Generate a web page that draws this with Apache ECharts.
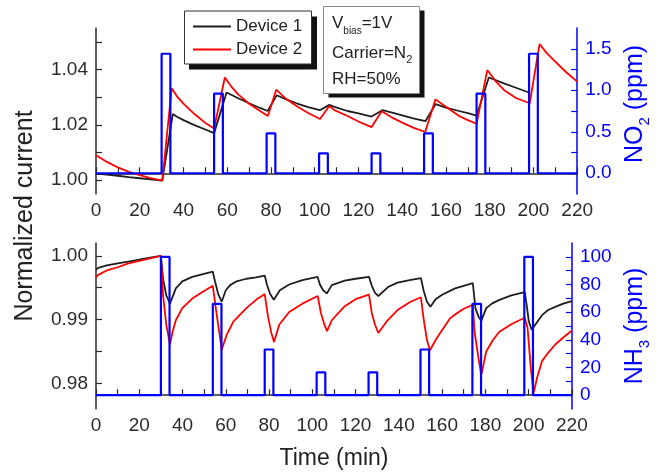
<!DOCTYPE html>
<html>
<head>
<meta charset="utf-8">
<script src="https://cdn.jsdelivr.net/npm/echarts@6/dist/echarts.min.js"></script>
<style>
html,body{margin:0;padding:0;background:#fff;}
#chart{width:660px;height:476px;}
</style>
</head>
<body>
<div id="chart"></div>
<script>
// ---------- data ----------
var pulseStarts = [30, 54, 78, 102, 126, 150, 174, 198];
var pulseWidth = 4;
var no2Levels = [1.44, 0.96, 0.48, 0.24, 0.24, 0.48, 0.96, 1.44];
var nh3Levels = [100, 66, 33, 16.5, 16.5, 33, 66, 100];
var timeEnd = 220;

var no2Device1 = [[0,1.0024],[5,1.0020],[10,1.0016],[15,1.0011],[20,1.0007],[25,1.0003],[30.3,0.9998],
 [35.1,1.0239],[37,1.0229],[40,1.0217],[45,1.0199],[50,1.0183],[54,1.0170],
 [59.7,1.0317],[65,1.0296],[70,1.0278],[75,1.0261],[78.5,1.0250],
 [82.6,1.0307],[87,1.0292],[92,1.0277],[97,1.0264],[102.3,1.0253],
 [106.7,1.0272],[109,1.0265],[115,1.0250],[120,1.0241],[126,1.0230],
 [130.9,1.0253],[135,1.0245],[140,1.0234],[145,1.0223],[150.6,1.0213],
 [155.3,1.0275],[160,1.0262],[166,1.0250],[170,1.0242],[174,1.0233],
 [179.6,1.0371],[186.5,1.0350],[192,1.0334],[198.2,1.0316]];

var no2Device2 = [[0,1.0090],[5,1.0066],[10,1.0046],[15,1.0030],[20,1.0018],[25,1.0007],[30.3,0.9998],
 [34.6,1.0332],[37,1.0303],[40,1.0277],[45,1.0239],[50,1.0207],[54,1.0187],
 [58.9,1.0371],[62,1.0337],[65,1.0310],[70,1.0276],[75,1.0250],[78.6,1.0232],
 [82.4,1.0327],[87,1.0293],[92,1.0266],[97,1.0243],[102.4,1.0221],
 [106.7,1.0268],[109,1.0253],[115,1.0232],[120,1.0212],[126,1.0192],
 [130.6,1.0249],[135,1.0228],[140,1.0208],[145,1.0190],[150.5,1.0174],
 [155.2,1.0292],[160,1.0265],[166,1.0232],[170,1.0217],[174,1.0204],
 [178.9,1.0398],[183,1.0355],[186.5,1.0326],[192,1.0297],[198.3,1.0278],
 [202.8,1.0492],[206,1.0460],[209.3,1.0434],[215,1.0390],[220,1.0356]];

var nh3Device1 = [[0,0.9978],[1,0.9981],[5,0.9985],[10,0.9988],[15,0.9991],[20,0.9994],[25,0.9997],[30,1.0000],
 [31,0.9964],[32.5,0.9938],[34.2,0.9925],
 [36.9,0.9949],[39.9,0.9960],[44.5,0.9967],[49,0.9971],[54,0.9975],
 [55,0.9960],[56.5,0.9940],[58.1,0.9928],
 [60,0.9946],[62,0.9954],[65,0.9960],[69.5,0.9964],[74,0.9966],[78,0.9969],
 [79,0.9955],[80.5,0.9940],[82.2,0.9931],
 [85,0.9946],[89.3,0.9955],[95.4,0.9962],[102.4,0.9967],
 [103.5,0.9955],[105,0.9946],[106.7,0.9941],
 [109,0.9954],[115,0.9961],[120,0.9964],[126.2,0.9967],
 [127.5,0.9953],[129,0.9942],[130.5,0.9937],
 [135,0.9951],[139.4,0.9958],[145,0.9962],[150.2,0.9965],
 [151.5,0.9945],[153,0.9928],[154.6,0.9920],
 [157,0.9932],[160,0.9939],[166,0.9949],[170,0.9953],[174.2,0.9957],
 [175.4,0.9918],[176.8,0.9905],[178.1,0.9898],
 [180.4,0.9918],[183,0.9925],[186.5,0.9931],[192,0.9938],[198.2,0.9943],
 [199,0.9925],[200.1,0.9897],[201.4,0.9884],[202.3,0.9881],
 [206.2,0.9907],[209,0.9915],[212.3,0.9920],[216,0.9925],[220,0.9929]];

var nh3Device2 = [[0,0.9966],[1,0.9970],[5,0.9977],[10,0.9982],[15,0.9988],[20,0.9992],[25,0.9996],[30,1.0000],
 [31,0.9938],[32.5,0.9892],[34.2,0.9861],
 [35.4,0.9881],[36.9,0.9899],[39.9,0.9918],[44.5,0.9933],[49,0.9943],[54,0.9953],
 [55.5,0.9915],[57,0.9880],[58.1,0.9853],
 [60.4,0.9876],[63.5,0.9897],[69.5,0.9918],[74,0.9931],[78,0.9940],
 [79.5,0.9905],[81,0.9880],[82.3,0.9865],
 [84.7,0.9892],[89.3,0.9912],[95.4,0.9925],[102.5,0.9937],
 [104,0.9910],[105.5,0.9893],[106.8,0.9882],
 [109,0.9899],[115,0.9921],[120,0.9932],[126.2,0.9939],
 [127.5,0.9910],[129,0.9892],[130.5,0.9879],
 [134.8,0.9899],[139.4,0.9915],[145.4,0.9928],[150.2,0.9935],
 [151.5,0.9900],[153,0.9868],[154.4,0.9852],
 [157,0.9868],[159.1,0.9879],[163.7,0.9902],[166,0.9908],[170,0.9917],[174.2,0.9923],
 [175,0.9881],[176.8,0.9840],[178.1,0.9813],
 [180.4,0.9850],[183.5,0.9868],[186.5,0.9881],[192.6,0.9894],[198.2,0.9903],
 [199.5,0.9887],[201,0.9824],[202.3,0.9785],
 [203.9,0.9809],[206.2,0.9835],[209,0.9848],[212.3,0.9861],[216,0.9872],[220,0.9883]];

var xLabels = [0,20,40,60,80,100,120,140,160,180,200,220];
var topLeftTicks = [1.00,1.01,1.02,1.03,1.04,1.05];
var topLeftLabels = [1.00,1.02,1.04];
var topRightTicks = [0,0.25,0.5,0.75,1.0,1.25,1.5];
var topRightLabels = [0,0.5,1.0,1.5];
var botLeftTicks = [0.98,0.985,0.99,0.995,1.00];
var botLeftLabels = [0.98,0.99,1.00];
var botRightTicks = [0,10,20,30,40,50,60,70,80,90,100];
var botRightLabels = [0,20,40,60,80,100];

// ---------- build ----------
function stepData(starts, levels, width, end) {
  var d = [[0, 0]];
  starts.forEach(function (s, i) {
    d.push([s, 0], [s, levels[i]], [s + width, levels[i]], [s + width, 0]);
  });
  d.push([end, 0]);
  return d;
}

var FONT = 'Liberation Sans, Arial, sans-serif';
var AX = '#2b2b2b';
var BLUE = '#0000ff';
var RED = '#ff0000';
var BLK = '#1e1e1e';

function xAxisDef(gi, extra) {
  var o = {
    type: 'value', gridIndex: gi, min: 0, max: 220, interval: 10,
    axisLine: { show: true, lineStyle: { color: AX, width: 1.5 } },
    axisTick: { show: true, inside: true, length: 6, lineStyle: { color: AX, width: 1.2 } },
    axisLabel: { fontFamily: FONT, fontSize: 19, color: AX, margin: 7, customValues: xLabels },
    splitLine: { show: false }
  };
  for (var k in extra) o[k] = extra[k];
  return o;
}

function yAxisDef(gi, pos, min, max, ticks, labels, dec, color, extra) {
  var o = {
    type: 'value', gridIndex: gi, position: pos, min: min, max: max,
    axisLine: { show: true, lineStyle: { color: color, width: 1.5 } },
    axisTick: { show: true, inside: true, length: 6, customValues: ticks, lineStyle: { color: color, width: 1.2 } },
    axisLabel: { fontFamily: FONT, fontSize: 19, color: color, margin: 8, customValues: labels,
      formatter: function (v) { return Number(v).toFixed(dec); } },
    splitLine: { show: false }
  };
  for (var k in extra) o[k] = extra[k];
  return o;
}

var nameRich = {
  a: { fontFamily: FONT, fontSize: 25, color: BLUE, verticalAlign: 'middle', lineHeight: 25 },
  s: { fontFamily: FONT, fontSize: 15, color: BLUE, verticalAlign: 'bottom', lineHeight: 34 }
};

var chart = echarts.init(document.getElementById('chart'), null, { renderer: 'canvas' });

var cv = document.createElement('canvas').getContext('2d');
function tw(t, size) { cv.font = size + 'px ' + FONT; return cv.measureText(t).width; }

var g = [];
// legend frame with solid drop shadow
g.push({ type: 'rect', z: 90, shape: { x: 189, y: 16.5, width: 128, height: 53 }, style: { fill: '#111' } });
g.push({ type: 'rect', z: 91, shape: { x: 184.5, y: 11, width: 127, height: 53 }, style: { fill: '#fff', stroke: '#333', lineWidth: 1 } });
// text box with solid drop shadow
g.push({ type: 'rect', z: 90, shape: { x: 328.5, y: 10.5, width: 96, height: 87 }, style: { fill: '#111' } });
g.push({ type: 'rect', z: 91, shape: { x: 323.5, y: 6.5, width: 96, height: 87 }, style: { fill: '#fff', stroke: '#888', lineWidth: 1 } });
function txt(t, x, y, size) {
  return { type: 'text', x: x, y: y, z: 101,
    style: { text: t, fontFamily: FONT, fontSize: size, fill: '#222', textAlign: 'left', textVerticalAlign: 'middle' } };
}
var bx = 332;
var x1 = bx + tw('V', 17);
g.push(txt('V', bx, 23, 17));
g.push(txt('bias', x1, 31, 10));
g.push(txt('=1V', x1 + tw('bias', 10), 23, 17));
g.push(txt('Carrier=N', bx, 53, 17));
g.push(txt('2', bx + tw('Carrier=N', 17), 60, 11));
g.push(txt('RH=50%', bx, 79, 17));
g.push({ type: 'text', x: 25, y: 216, rotation: Math.PI / 2, z: 101,
  style: { text: 'Normalized current', fontFamily: FONT, fontSize: 25, fill: '#222', textAlign: 'center', textVerticalAlign: 'middle' } });

var option = {
  animation: false,
  backgroundColor: '#fff',
  grid: [
    { left: 96, right: 81, top: 28, height: 166 },
    { left: 96, right: 81, top: 243, height: 166 }
  ],
  legend: {
    data: ['Device 1', 'Device 2'],
    orient: 'vertical', left: 184, top: 11,
    padding: [7, 9, 6, 9], itemGap: 6,
    icon: 'rect', itemWidth: 38, itemHeight: 2,
    textStyle: { fontFamily: FONT, fontSize: 17, color: '#222' },
    z: 100
  },
  xAxis: [
    xAxisDef(0, {}),
    xAxisDef(1, { name: 'Time (min)', nameLocation: 'middle', nameGap: 38,
      nameTextStyle: { fontFamily: FONT, fontSize: 23, color: '#222' } })
  ],
  yAxis: [
    yAxisDef(0, 'left', 0.995, 1.055, topLeftTicks, topLeftLabels, 2, AX, {}),
    yAxisDef(0, 'right', -0.25, 1.75, topRightTicks, topRightLabels, 1, BLUE, {
      name: '{a|NO}{s|2}{a| (ppm)}', nameLocation: 'middle', nameRotate: 90, nameGap: 26,
      nameTextStyle: { rich: nameRich, padding: [0, 0, 0, 14] } }),
    yAxisDef(1, 'left', 0.976, 1.002, botLeftTicks, botLeftLabels, 2, AX, {}),
    yAxisDef(1, 'right', -10, 110, botRightTicks, botRightLabels, 0, BLUE, {
      name: '{a|NH}{s|3}{a| (ppm)}', nameLocation: 'middle', nameRotate: 90, nameGap: 26,
      nameTextStyle: { rich: nameRich } })
  ],
  series: [
    { name: 'Device 1', type: 'line', xAxisIndex: 0, yAxisIndex: 0, data: no2Device1, symbol: 'none',
      color: BLK, lineStyle: { color: BLK, width: 1.8 }, z: 3 },
    { name: 'Device 2', type: 'line', xAxisIndex: 0, yAxisIndex: 0, data: no2Device2, symbol: 'none',
      color: RED, lineStyle: { color: RED, width: 1.8 }, z: 3 },
    { name: 'NO2', type: 'line', xAxisIndex: 0, yAxisIndex: 1, data: stepData(pulseStarts, no2Levels, pulseWidth, timeEnd),
      symbol: 'none', color: BLUE, lineStyle: { color: BLUE, width: 2.2 }, z: 4 },
    { name: 'Device 1', type: 'line', xAxisIndex: 1, yAxisIndex: 2, data: nh3Device1, symbol: 'none',
      color: BLK, lineStyle: { color: BLK, width: 1.8 }, z: 3 },
    { name: 'Device 2', type: 'line', xAxisIndex: 1, yAxisIndex: 2, data: nh3Device2, symbol: 'none',
      color: RED, lineStyle: { color: RED, width: 1.8 }, z: 3 },
    { name: 'NH3', type: 'line', xAxisIndex: 1, yAxisIndex: 3, data: stepData(pulseStarts, nh3Levels, pulseWidth, timeEnd),
      symbol: 'none', color: BLUE, lineStyle: { color: BLUE, width: 2.2 }, z: 4 }
  ],
  graphic: g
};
chart.setOption(option);
</script>
</body>
</html>
